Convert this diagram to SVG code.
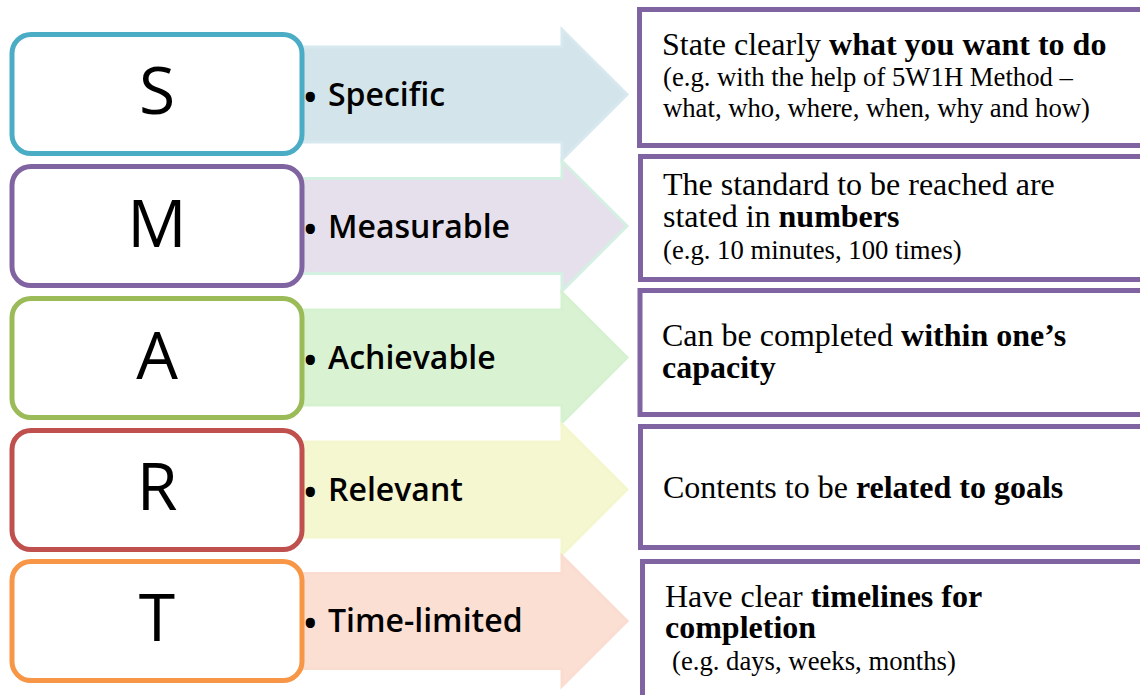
<svg xmlns="http://www.w3.org/2000/svg" width="1140" height="695" viewBox="0 0 1140 695">
<style>
.bg{fill:#ffffff}
.lbox{fill:#ffffff;stroke-width:5}
.rbox{fill:#ffffff;stroke:#8064A2;stroke-width:5}
.arrow{stroke-width:3;stroke-linejoin:miter}
.letter{font-family:"Open Sans","Noto Sans",sans-serif;font-size:66px;fill:#000;text-anchor:middle}
.lab{font-family:"Open Sans","Noto Sans",sans-serif;font-size:32px;font-weight:600;fill:#000}
.bul{font-family:"Open Sans","Noto Sans",sans-serif;font-size:44px;fill:#000}
.main{font-family:"Liberation Serif","Times New Roman",serif;font-size:32px;fill:#000}
.sub{font-family:"Liberation Serif","Times New Roman",serif;font-size:26.7px;fill:#000}
.b{font-weight:bold}
</style>
<rect class="bg" x="0" y="0" width="1140" height="695"/>
<g id="connectors">
  <polygon class="arrow" fill="#D3E4EA" stroke="#D7E8EE" points="295,47 562,47 562,29.5 627,94.5 562,159.5 562,142 295,142"/>
  <polygon class="arrow" fill="#E6E0EC" stroke="#D4F0E2" points="295,178.5 562,178.5 562,161 627,226 562,291 562,273.5 295,273.5"/>
  <polygon class="arrow" fill="#D9F3D2" stroke="#D6F1CF" points="295,310 562,310 562,292.5 627,357.5 562,422.5 562,405 295,405"/>
  <polygon class="arrow" fill="#F5F7D0" stroke="#F4F7CE" points="295,442 562,442 562,424.5 627,489.5 562,554.5 562,537 295,537"/>
  <polygon class="arrow" fill="#FBDFD3" stroke="#FADCD0" points="295,573.5 562,573.5 562,556 627,621 562,686 562,668.5 295,668.5"/>
</g>
<g id="node-S">
  <rect class="lbox" stroke="#4BACC6" x="12" y="34.5" width="290" height="119" rx="19"/>
  <text class="letter" x="157" y="114">S</text>
  <text class="bul" x="302" y="113">•</text>
  <text class="lab" x="328" y="106">Specific</text>
</g>
<g id="node-M">
  <rect class="lbox" stroke="#8064A2" x="12" y="166.5" width="290" height="119" rx="19"/>
  <text class="letter" x="157" y="247">M</text>
  <text class="bul" x="302" y="245">•</text>
  <text class="lab" x="328" y="238">Measurable</text>
</g>
<g id="node-A">
  <rect class="lbox" stroke="#9BBB59" x="12" y="298.5" width="290" height="119" rx="19"/>
  <text class="letter" x="157" y="379">A</text>
  <text class="bul" x="302" y="376">•</text>
  <text class="lab" x="328" y="369">Achievable</text>
</g>
<g id="node-R">
  <rect class="lbox" stroke="#C0504D" x="12" y="430.5" width="290" height="119" rx="19"/>
  <text class="letter" x="157" y="510">R</text>
  <text class="bul" x="302" y="508">•</text>
  <text class="lab" x="328" y="501">Relevant</text>
</g>
<g id="node-T">
  <rect class="lbox" stroke="#F79646" x="12" y="561.5" width="290" height="119" rx="19"/>
  <text class="letter" x="157" y="641">T</text>
  <text class="bul" x="302" y="639">•</text>
  <text class="lab" x="328" y="632">Time-limited</text>
</g>
<g id="desc-S">
  <rect class="rbox" x="639.5" y="9.5" width="520" height="136"/>
  <text class="main" x="662" y="55">State clearly <tspan class="b">what you want to do</tspan></text>
  <text class="sub" x="663" y="86">(e.g. with the help of 5W1H Method –</text>
  <text class="sub" x="663" y="117">what, who, where, when, why and how)</text>
</g>
<g id="desc-M">
  <rect class="rbox" x="640.5" y="156.5" width="520" height="123"/>
  <text class="main" x="663" y="195">The standard to be reached are</text>
  <text class="main" x="663" y="227">stated in <tspan class="b">numbers</tspan></text>
  <text class="sub" x="663" y="259">(e.g. 10 minutes, 100 times)</text>
</g>
<g id="desc-A">
  <rect class="rbox" x="640" y="290.5" width="520" height="124"/>
  <text class="main" x="662" y="346">Can be completed <tspan class="b">within one’s</tspan></text>
  <text class="main b" x="662" y="378">capacity</text>
</g>
<g id="desc-R">
  <rect class="rbox" x="640.5" y="426.5" width="520" height="121"/>
  <text class="main" x="663" y="498">Contents to be <tspan class="b">related to goals</tspan></text>
</g>
<g id="desc-T">
  <rect class="rbox" x="642.5" y="561.5" width="520" height="200"/>
  <text class="main" x="665" y="607">Have clear <tspan class="b">timelines for</tspan></text>
  <text class="main b" x="665" y="638">completion</text>
  <text class="sub" x="672" y="670">(e.g. days, weeks, months)</text>
</g>
</svg>
